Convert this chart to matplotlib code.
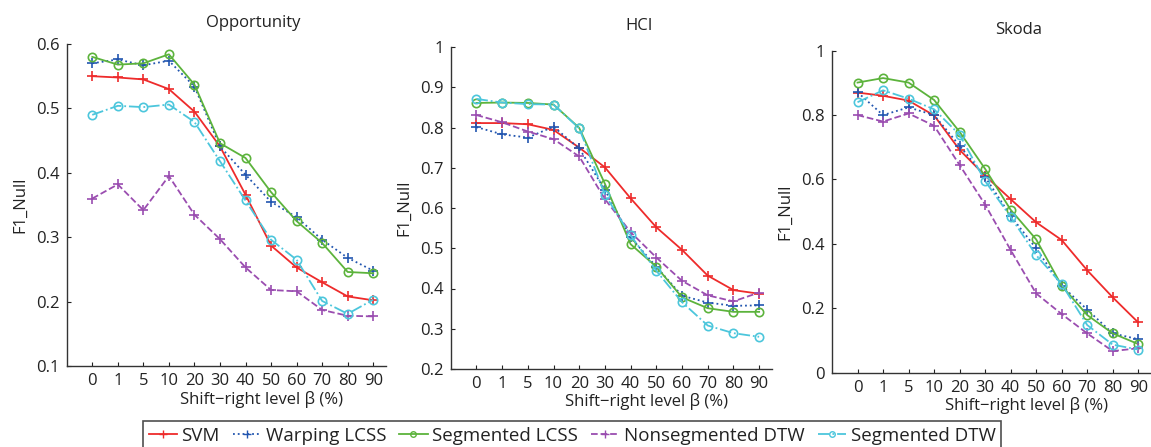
import numpy as np
import matplotlib
matplotlib.use('Agg')
import matplotlib.pyplot as plt
from matplotlib.lines import Line2D

plt.rcParams['font.family'] = ['Open Sans', 'DejaVu Sans']

shift_levels = ['0', '1', '5', '10', '20', '30', '40', '50', '60', '70', '80', '90']
methods = ['SVM', 'Warping LCSS', 'Segmented LCSS', 'Nonsegmented DTW', 'Segmented DTW']

# Opportunity
opp_svm = [0.550, 0.548, 0.545, 0.530, 0.495, 0.441, 0.366, 0.287, 0.253, 0.230, 0.208, 0.202]
opp_wlcss = [0.570, 0.576, 0.567, 0.574, 0.534, 0.441, 0.397, 0.355, 0.331, 0.296, 0.268, 0.248]
opp_slcss = [0.580, 0.568, 0.570, 0.584, 0.537, 0.446, 0.423, 0.370, 0.325, 0.291, 0.246, 0.244]
opp_ndtw = [0.360, 0.382, 0.342, 0.395, 0.335, 0.297, 0.253, 0.218, 0.216, 0.187, 0.178, 0.177]
opp_sdtw = [0.490, 0.504, 0.502, 0.506, 0.479, 0.418, 0.357, 0.296, 0.265, 0.201, 0.181, 0.203]

# HCI
hci_svm = [0.811, 0.811, 0.808, 0.794, 0.750, 0.701, 0.624, 0.552, 0.496, 0.432, 0.396, 0.387]
hci_wlcss = [0.801, 0.783, 0.775, 0.802, 0.748, 0.645, 0.527, 0.454, 0.382, 0.365, 0.357, 0.358]
hci_slcss = [0.861, 0.862, 0.861, 0.857, 0.799, 0.660, 0.510, 0.454, 0.378, 0.351, 0.342, 0.342]
hci_ndtw = [0.831, 0.813, 0.790, 0.771, 0.728, 0.622, 0.540, 0.477, 0.419, 0.383, 0.368, 0.390]
hci_sdtw = [0.871, 0.862, 0.858, 0.857, 0.798, 0.633, 0.532, 0.444, 0.366, 0.308, 0.289, 0.280]

# Skoda
sko_svm = [0.870, 0.860, 0.845, 0.799, 0.692, 0.612, 0.539, 0.467, 0.412, 0.318, 0.234, 0.156]
sko_wlcss = [0.871, 0.800, 0.824, 0.800, 0.705, 0.608, 0.487, 0.386, 0.270, 0.196, 0.122, 0.104]
sko_slcss = [0.901, 0.915, 0.901, 0.847, 0.748, 0.633, 0.506, 0.414, 0.270, 0.179, 0.122, 0.089]
sko_ndtw = [0.800, 0.780, 0.805, 0.767, 0.645, 0.522, 0.381, 0.246, 0.182, 0.122, 0.067, 0.076]
sko_sdtw = [0.840, 0.877, 0.851, 0.818, 0.739, 0.595, 0.484, 0.365, 0.275, 0.148, 0.087, 0.072]

colors = ['#ee2b2b', '#2256b0', '#5cb33c', '#9a4db0', '#4cc6dc']
styles = ['-', ':', '-', '--', '-.']
markers = ['+', '+', 'o', '+', 'o']

W, H = 1151, 447
fig = plt.figure(figsize=(W / 100, H / 100), dpi=100)

panels = [
    ('Opportunity', [opp_svm, opp_wlcss, opp_slcss, opp_ndtw, opp_sdtw],
     (66.7, 44, 386, 366), (0.1, 0.6), np.arange(0.1, 0.61, 0.1), ['0.1', '0.2', '0.3', '0.4', '0.5', '0.6']),
    ('HCI', [hci_svm, hci_wlcss, hci_slcss, hci_ndtw, hci_sdtw],
     (450.7, 47, 772, 369), (0.2, 1.0), np.arange(0.2, 1.01, 0.1), ['0.2', '0.3', '0.4', '0.5', '0.6', '0.7', '0.8', '0.9', '1']),
    ('Skoda', [sko_svm, sko_wlcss, sko_slcss, sko_ndtw, sko_sdtw],
     (832, 50.7, 1151, 372.7), (0, 1.0), np.arange(0, 1.01, 0.2), ['0', '0.2', '0.4', '0.6', '0.8', '1']),
]

x = np.arange(1, len(shift_levels) + 1)
for title, series, (l, t, r, b), ylim, yt, ytl in panels:
    ax = fig.add_axes([l / W, 1 - b / H, (r - l) / W, (b - t) / H])
    for vals, c, ls, m in zip(series, colors, styles, markers):
        ax.plot(x, vals, color=c, linestyle=ls, marker=m, markersize=7 if m == '+' else 6,
                markerfacecolor='none', markeredgewidth=1.2, linewidth=1.3, clip_on=False)
    ax.set_xlim(0, 12.5)
    ax.set_ylim(*ylim)
    ax.set_xticks(x)
    ax.set_xticklabels(shift_levels)
    ax.set_yticks(yt)
    ax.set_yticklabels(ytl)
    ax.tick_params(direction='in', length=3, labelsize=12, colors='#222222', pad=5)
    for s in ['top', 'right']:
        ax.spines[s].set_visible(False)
    for s in ['left', 'bottom']:
        ax.spines[s].set_color('#333333')
        ax.spines[s].set_linewidth(1.0)
    ax.set_ylabel('F1_Null', fontsize=12, color='#222222', labelpad=6)
    ax.text(0.585, 1.0 + 21 / (b - t), title, transform=ax.transAxes, ha='center', va='center',
            fontsize=12, color='#222222')
    ax.text(0.61, -33 / (b - t), 'Shift\u2212right level \u03b2 (%)', transform=ax.transAxes,
            ha='center', va='center', fontsize=12, color='#222222')

handles = [Line2D([], [], color=c, linestyle=ls, marker=m, markersize=6 if m == '+' else 4,
                  markerfacecolor='none', linewidth=1.3)
           for c, ls, m in zip(colors, styles, markers)]
leg = fig.legend(handles, methods, loc='upper left', bbox_to_anchor=(143 / W, 1 - 421 / H),
                 ncol=5, fontsize=13.5, frameon=True, fancybox=False, handlelength=1.5,
                 handletextpad=0.25, columnspacing=0.7, borderpad=0.3, borderaxespad=0)
leg.get_frame().set_edgecolor('#222222')
leg.get_frame().set_linewidth(1.2)
for txt in leg.get_texts():
    txt.set_color('#222222')

fig.savefig('out.png', dpi=100)
